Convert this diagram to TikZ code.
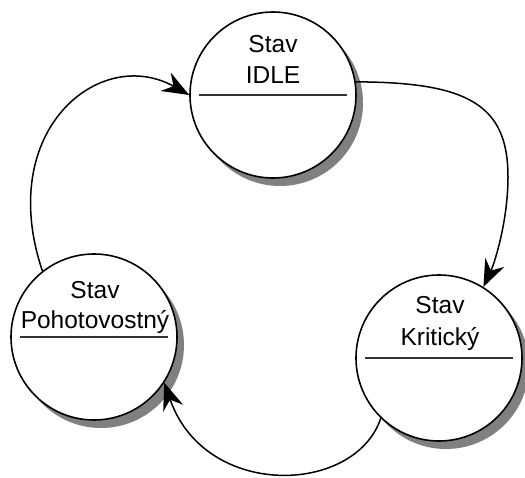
\documentclass[tikz,border=0pt]{standalone}
\usepackage{fontspec}
\setmainfont{Liberation Sans}
\usetikzlibrary{arrows.meta,shadows}
\begin{document}
\begin{tikzpicture}[x=1pt,y=-1pt,
  state/.style={circle, draw=black, line width=1.6pt, fill=white,
    minimum size=166pt, inner sep=0pt,
    drop shadow={shadow xshift=7pt, shadow yshift=-8pt, fill=black!50, opacity=1}},
  title/.style={font=\fontsize{24.5}{29}\selectfont, inner sep=0pt, anchor=base},
  divider/.style={line width=1.4pt, draw=black!80},
  flow/.style={line width=1.5pt, -{Stealth[length=27pt,width=21pt,inset=9pt]}}]
\useasboundingbox (0,0) rectangle (525,477);

% states
\node[state] (idle) at (273,95) {};
\node[state] (poh)  at (94,337) {};
\node[state] (krit) at (439,358) {};

% titles
\node[title] (idleA) at (273,52) {Stav};
\node[title] (idleB) at (273,83) {IDLE};
\node[title] (pohA)  at (95,298) {Stav};
\node[title] (pohB)  at (95,328) {Pohotovostný};
\node[title] (kritA) at (440,313) {Stav};
\node[title] (kritB) at (440,345) {Kritický};

% dividers
\draw[divider] ([xshift=-74pt]idle.center) -- ([xshift=74pt]idle.center);
\draw[divider] ([xshift=-74pt]poh.center) -- ([xshift=74pt]poh.center);
\draw[divider] ([xshift=-74pt]krit.center) -- ([xshift=74pt]krit.center);

% transitions
\coordinate (bendR) at (508,177);
\draw[flow] (idle.9) .. controls (470,82) and (508,106) .. (bendR)
  .. controls (508,220) and (495,262) .. (krit.58);
\draw[flow] (krit.226) .. controls (355,495) and (205,500) .. (poh.327);
\draw[flow] (poh.128) .. controls (-5,130) and (100,45) .. (idle.180);
\end{tikzpicture}
\end{document}
